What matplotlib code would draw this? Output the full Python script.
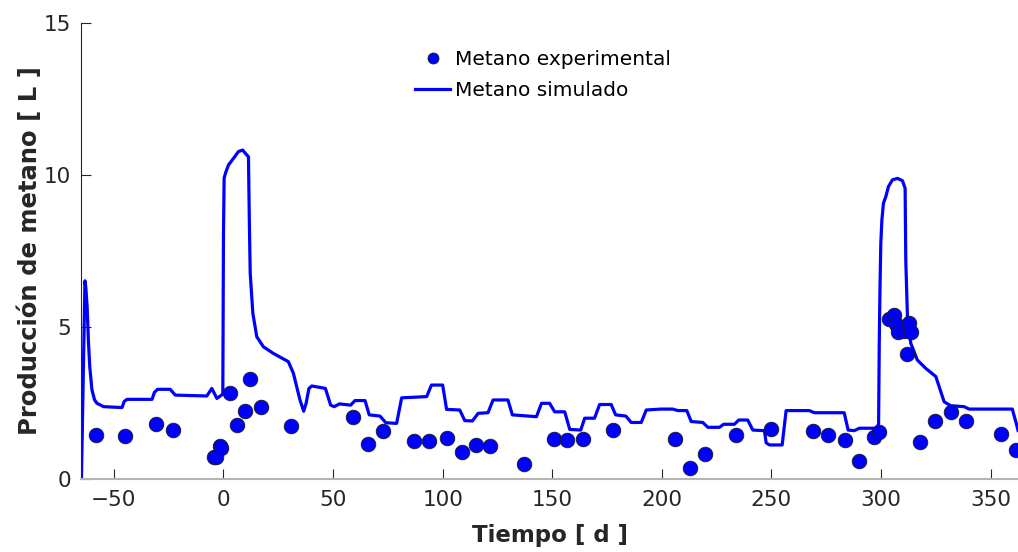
import matplotlib
matplotlib.use('Agg')
import matplotlib.pyplot as plt

# experimental methane points (day, L)
x_exp = [-58.0, -45.1, -31.0, -22.8, -4.1, -3.3, -1.8, -0.9, 3.0, 6.1, 10.0, 11.9, 16.9, 31.0,
         58.9, 65.9, 72.9, 86.9, 93.9, 101.9, 108.9, 115.0, 121.8, 137.0,
         151.0, 156.9, 163.9, 177.9, 205.9, 212.8, 219.9, 233.9, 249.8,
         268.8, 275.8, 283.7, 289.8, 296.6, 298.9,
         303.7, 305.7, 306.8, 307.8, 310.6, 312.8, 313.8, 311.8,
         317.9, 324.7, 331.8, 338.8, 354.8, 361.5]
y_exp = [1.45, 1.40, 1.82, 1.60, 0.73, 0.71, 1.08, 1.02, 2.84, 1.78, 2.24, 3.28, 2.37, 1.74,
         2.05, 1.14, 1.59, 1.25, 1.26, 1.34, 0.88, 1.11, 1.10, 0.49,
         1.30, 1.27, 1.33, 1.60, 1.33, 0.37, 0.82, 1.45, 1.63,
         1.59, 1.45, 1.28, 0.58, 1.37, 1.55,
         5.26, 5.38, 5.10, 4.83, 4.87, 5.13, 4.83, 4.10,
         1.22, 1.90, 2.20, 1.92, 1.49, 0.95]

# simulated methane curve
x_sim = [-64.8, -63.2, -62.8, -62.2, -61.6, -61.0, -60.0, -58.8, -57.7, -54.7, -46.3, -45.3,
         -44.0, -32.6, -31.5, -30.1, -24.3, -22.0, -7.6, -5.3, -3.0, -0.9, -0.3, 0.0,
         0.3, 1.1, 2.3, 4.6, 6.8, 8.8, 10.0, 11.4, 11.8, 12.2, 13.4, 15.2, 18.2, 22.8,
         29.6, 31.9, 34.9, 36.6, 37.7, 39.0, 40.3, 46.5, 48.9, 50.5, 52.9, 58.0, 60.0,
         64.6, 66.5, 71.4, 74.1, 79.0, 81.3, 92.7, 94.9, 100.0, 101.8, 107.8, 110.1,
         113.6, 116.2, 120.7, 123.0, 129.8, 131.8, 142.8, 145.1, 148.8, 151.1, 155.7,
         158.0, 163.0, 164.8, 169.3, 171.6, 176.9, 178.9, 183.6, 186.0, 190.6, 192.9,
         199.5, 205.0, 207.3, 211.4, 213.4, 218.7, 221.0, 226.3, 228.2, 233.1, 235.1,
         239.2, 241.5, 246.8, 247.6, 249.1, 254.9, 256.7, 267.3, 269.6, 283.2, 285.0,
         287.8, 290.1, 297.7, 298.9, 299.2, 299.5, 299.9, 300.4, 301.1, 302.2, 303.4,
         305.2, 307.5, 309.8, 311.0, 311.3, 312.1, 313.6, 316.6, 320.4, 325.0, 326.5,
         328.8, 331.8, 337.9, 340.2, 359.9, 361.7, 362.5]
y_sim = [0.0, 6.52, 6.3, 5.67, 4.5, 3.69, 2.93, 2.6, 2.49, 2.38, 2.35, 2.55,
         2.62, 2.62, 2.85, 2.95, 2.95, 2.76, 2.73, 2.98, 2.65, 2.76, 2.8, 8.0,
         9.9, 10.1, 10.33, 10.55, 10.77, 10.82, 10.71, 10.6, 8.5, 6.77, 5.45, 4.68, 4.35, 4.13,
         3.86, 3.48, 2.6, 2.23, 2.49, 2.98, 3.06, 2.98, 2.43, 2.38, 2.47, 2.43, 2.58,
         2.58, 2.11, 2.07, 1.85, 1.83, 2.67, 2.71, 3.09, 3.09, 2.29, 2.27, 1.92,
         1.91, 2.16, 2.18, 2.6, 2.6, 2.11, 2.05, 2.49, 2.49, 2.21, 2.21,
         1.63, 1.61, 2.0, 2.0, 2.45, 2.45, 2.11, 2.07, 1.86, 1.86, 2.27,
         2.3, 2.3, 2.25, 2.25, 1.89, 1.86, 1.70, 1.70, 1.8, 1.8, 1.94,
         1.94, 1.61, 1.59, 1.19, 1.12, 1.12, 2.25, 2.25, 2.18, 2.18, 1.61,
         1.59, 1.67, 1.67, 1.8, 4.46, 6.11, 7.75, 8.52, 9.07, 9.29, 9.62,
         9.84, 9.89, 9.81, 9.56, 7.2, 5.23, 4.46, 3.91, 3.64, 3.37, 3.04,
         2.54, 2.41, 2.38, 2.3, 2.3, 1.83, 1.6]

x_ticks = [-50, 0, 50, 100, 150, 200, 250, 300, 350]
y_ticks = [0, 5, 10, 15]


def main():
    fig = plt.figure(figsize=(10.18, 5.52), dpi=100)
    ax = fig.add_axes([81 / 1018, 73 / 552, 937 / 1018, 456 / 552])

    ax.plot(x_exp, y_exp, 'o', color='#0000ff', markersize=10.5,
            markeredgecolor='#1a1a1a', markeredgewidth=0.6,
            label='Metano experimental', zorder=3)
    ax.plot(x_sim, y_sim, '-', color='#0000ff', linewidth=2.3,
            solid_joinstyle='round', label='Metano simulado', zorder=2)

    ax.set_xlim(-65, 362.5)
    ax.set_ylim(0, 15)
    ax.set_xticks(x_ticks)
    ax.set_yticks(y_ticks)

    for s in ['top', 'right']:
        ax.spines[s].set_visible(False)
    ax.spines['left'].set_color('#262626')
    ax.spines['left'].set_linewidth(0.8)
    ax.spines['bottom'].set_color('#b4b4b4')
    ax.spines['bottom'].set_linewidth(1.5)

    ax.tick_params(axis='both', direction='in', length=7, width=0.8,
                   colors='#262626', labelsize=15.5, labelcolor='#262626')
    ax.tick_params(axis='x', pad=8)
    ax.tick_params(axis='y', pad=7)

    ax.set_xlabel('Tiempo [ d ]', fontsize=16.5, fontweight='bold', color='#262626')
    ax.set_ylabel('Producción de metano [ L ]', fontsize=17.5, fontweight='bold', color='#262626')
    ax.xaxis.set_label_coords(0.5, -0.098)
    ax.yaxis.set_label_coords(-0.0416, 0.5)

    ax.legend(loc='upper left', bbox_to_anchor=(415 / 1018, 1 - 50 / 552),
              bbox_transform=fig.transFigure, frameon=False, fontsize=14.5,
              borderpad=0, borderaxespad=0, handlelength=1.75, handletextpad=0.25,
              labelspacing=0.58, markerscale=0.75)

    fig.savefig('out.png', dpi=100)


if __name__ == "__main__":
    main()
